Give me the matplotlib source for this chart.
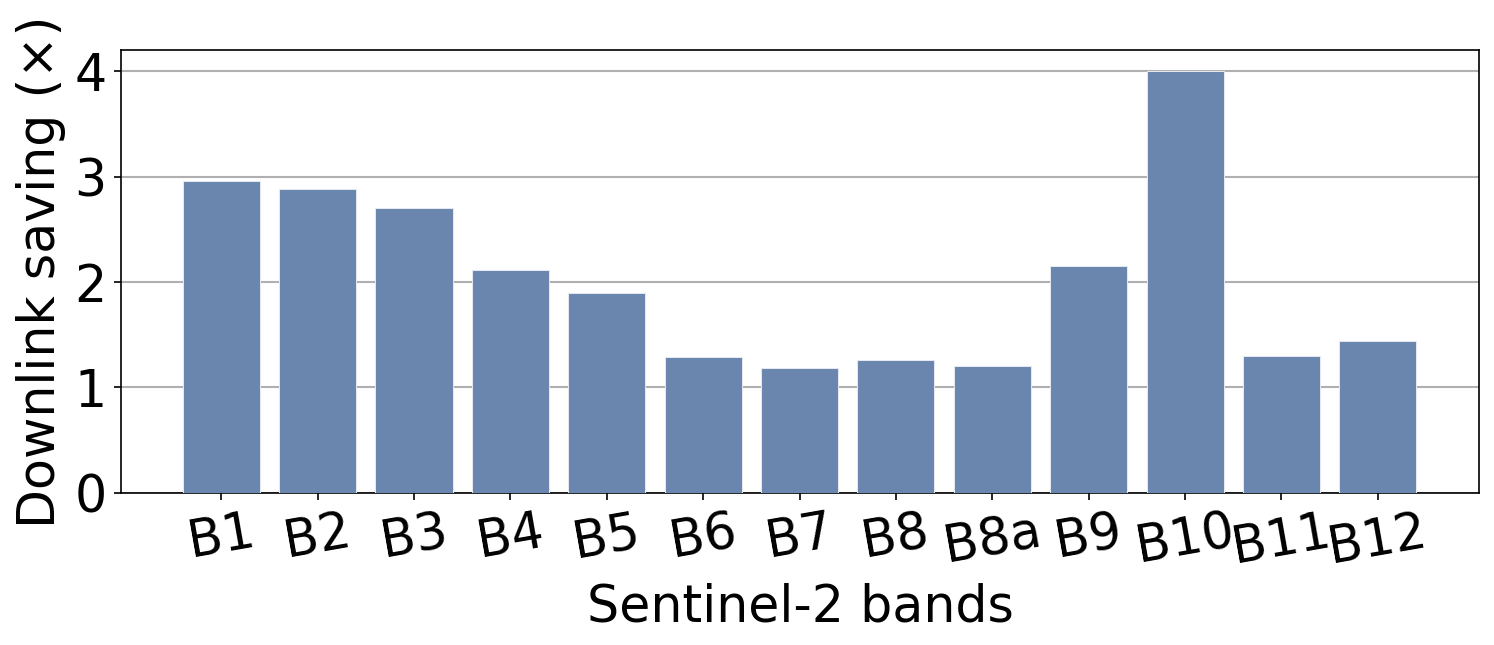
import matplotlib
matplotlib.use('Agg')
import matplotlib.pyplot as plt

# Datos
bands = ['B1', 'B2', 'B3', 'B4', 'B5', 'B6', 'B7', 'B8', 'B8a', 'B9', 'B10', 'B11', 'B12']
saving = [2.96, 2.88, 2.70, 2.11, 1.90, 1.29, 1.18, 1.26, 1.20, 2.15, 4.00, 1.30, 1.44]

plt.rcParams['font.size'] = 24.3

fig, ax = plt.subplots(figsize=(9.96, 4.3), dpi=150)
x = range(len(bands))
ax.bar(x, saving, width=0.8, color='#6a86ae', edgecolor='#e4e9f0', linewidth=0.5, zorder=3)
ax.set_xticks(list(x))
ax.set_xticklabels(bands, rotation=10)
ax.set_xlim(-1.04, 13.05)
ax.set_ylim(0, 4.2)
ax.set_yticks([0, 1, 2, 3, 4])
ax.yaxis.grid(True, color='#b0b0b0', linewidth=1, zorder=0)
ax.set_axisbelow(True)
ax.set_xlabel('Sentinel-2 bands')
ax.set_ylabel('Downlink saving (×)')

plt.subplots_adjust(left=0.081, right=0.99, top=0.922, bottom=0.236)
plt.savefig('out.png')
